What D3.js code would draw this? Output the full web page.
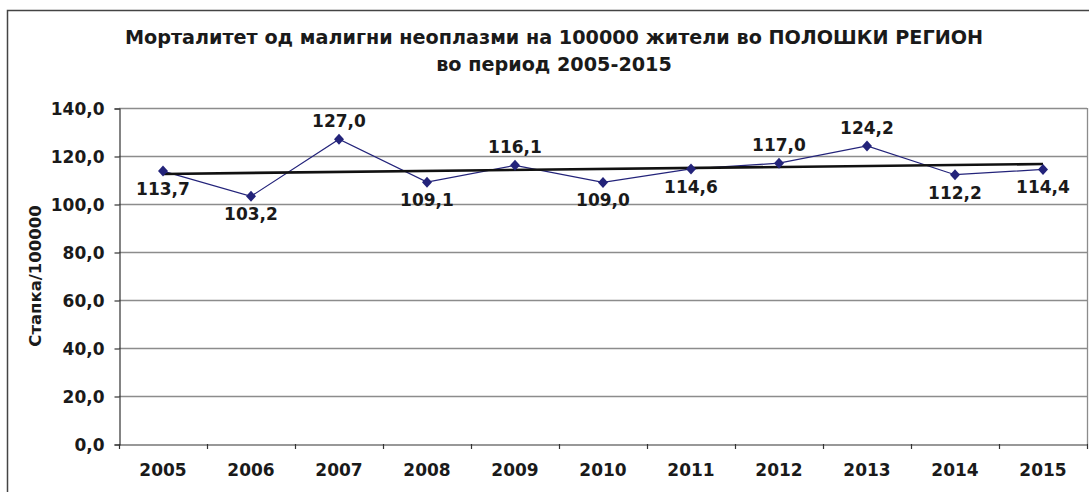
<!DOCTYPE html>
<html><head><meta charset="utf-8">
<script src="https://cdn.jsdelivr.net/npm/d3@7"></script>
<style>
html,body{margin:0;padding:0;background:#fff;}
svg{display:block;}
text{font-family:"DejaVu Sans",Verdana,sans-serif;font-weight:bold;fill:#1a1a1a;}
</style></head>
<body><svg id="c" width="1089" height="492"></svg>
<script>
const years = ["2005","2006","2007","2008","2009","2010","2011","2012","2013","2014","2015"];
const rates = [113.7,103.2,127.0,109.1,116.1,109.0,114.6,117.0,124.2,112.2,114.4];
const labelSide = ["below","below","above","below","above","below","below","above","above","below","below"];
const yTicks = [0,20,40,60,80,100,120,140];
const titleLines = ["Морталитет од малигни неоплазми на 100000 жители во ПОЛОШКИ РЕГИОН","во период 2005-2015"];
const yTitle = "Стапка/100000";

const svg = d3.select("#c");
const m = {left:119, right:1087, top:108, bottom:444};

// outer border
svg.append("rect").attr("x",7.5).attr("y",10.5).attr("width",1100).attr("height",520)
  .attr("fill","none").attr("stroke","#444").attr("stroke-width",1.5);

const x = d3.scaleBand().domain(years).range([m.left,m.right]).padding(0);
const y = d3.scaleLinear().domain([0,140]).range([m.bottom,m.top]);
const fmt = v => d3.format(".1f")(v).replace(".",",");

// gridlines
svg.append("g").selectAll("line").data(yTicks.filter(d=>d>0)).join("line")
  .attr("x1",m.left).attr("x2",m.right)
  .attr("y1",d=>Math.round(y(d))+0.5).attr("y2",d=>Math.round(y(d))+0.5)
  .attr("stroke","#8c8c8c").attr("stroke-width",1.3);
svg.append("line").attr("x1",m.right+0.5).attr("x2",m.right+0.5).attr("y1",m.top).attr("y2",m.bottom)
  .attr("stroke","#8c8c8c").attr("stroke-width",1.3);

// y axis
const ya = d3.axisLeft(y).tickValues(yTicks).tickFormat(fmt).tickSize(5).tickPadding(10);
const gy = svg.append("g").attr("transform",`translate(${m.left+0.5},0.5)`).call(ya);
gy.selectAll("path,line").attr("stroke","#333").attr("stroke-width",1.2);
gy.selectAll("text").style("font-size","17px").attr("fill","#1a1a1a").attr("dy","0.35em");

// x axis
const xa = d3.axisBottom(x).tickSize(0).tickPadding(19);
const gx = svg.append("g").attr("transform",`translate(0,${m.bottom+0.5})`).call(xa);
gx.select("path").attr("stroke","#333").attr("stroke-width",1.2);
gx.selectAll("text").style("font-size","17px").attr("fill","#1a1a1a");
svg.append("g").selectAll("line").data(years.concat(["end"])).join("line")
  .attr("x1",(d,i)=> (i<years.length? x(d): m.right)+0.5)
  .attr("x2",(d,i)=> (i<years.length? x(d): m.right)+0.5)
  .attr("y1",m.bottom).attr("y2",m.bottom+5).attr("stroke","#333").attr("stroke-width",1.2);

const cx = d => x(d)+x.bandwidth()/2;

// series line
const line = d3.line().x((d,i)=>cx(years[i])).y(d=>y(d));
svg.append("path").datum(rates).attr("d",line).attr("fill","none")
  .attr("stroke","#23237a").attr("stroke-width",1.2);

// trend line (least squares)
const n = rates.length, mx = (n-1)/2, my = d3.mean(rates);
let sxy=0,sxx=0; rates.forEach((v,i)=>{sxy+=(i-mx)*(v-my); sxx+=(i-mx)*(i-mx);});
const slope = sxy/sxx, icpt = my - slope*mx;
svg.append("line").attr("x1",cx(years[0])).attr("x2",cx(years[n-1]))
  .attr("y1",y(icpt)).attr("y2",y(icpt+slope*(n-1)))
  .attr("stroke","#111").attr("stroke-width",2.6);

// markers
svg.append("g").selectAll("path").data(rates).join("path")
  .attr("transform",(d,i)=>`translate(${cx(years[i])},${y(d)})`)
  .attr("d","M0,-5.5L5,0L0,5.5L-5,0Z")
  .attr("fill","#23237a");

// data labels
svg.append("g").selectAll("text").data(rates).join("text")
  .attr("x",(d,i)=>cx(years[i]))
  .attr("y",(d,i)=> labelSide[i]==="above"? y(d)-12 : y(d)+24)
  .attr("text-anchor","middle").style("font-size","17px")
  .text(d=>fmt(d));

// title
svg.append("g").selectAll("text").data(titleLines).join("text")
  .attr("x",554).attr("y",(d,i)=>44+i*27).attr("text-anchor","middle")
  .style("font-size","19.2px").text(d=>d);

// y title
svg.append("text").attr("transform","translate(41,276) rotate(-90)")
  .attr("text-anchor","middle").style("font-size","16.5px").text(yTitle);
</script></body></html>
